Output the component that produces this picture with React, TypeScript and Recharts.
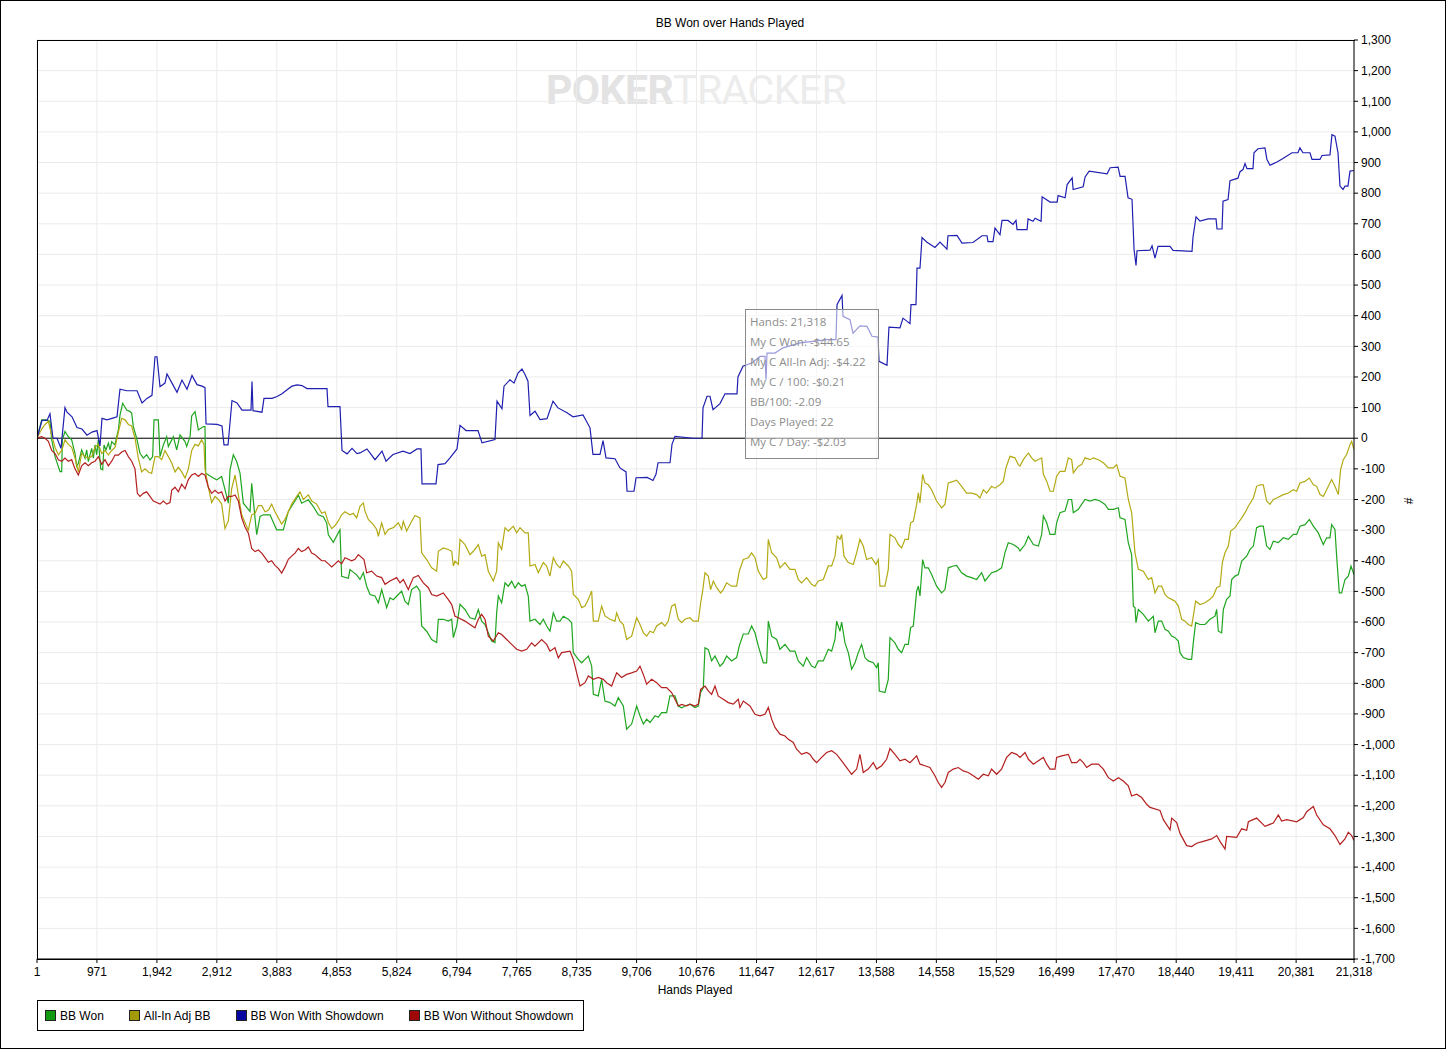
import { LineChart, Line, XAxis, YAxis, CartesianGrid, ReferenceLine } from "recharts"

// hand numbers shown under the x axis
const handTicks = [1, 971, 1942, 2912, 3883, 4853, 5824, 6794, 7765, 8735, 9706, 10676, 11647, 12617, 13588, 14558, 15529, 16499, 17470, 18440, 19411, 20381, 21318]

// BB values shown on the right axis
const bbTicks = [-1700, -1600, -1500, -1400, -1300, -1200, -1100, -1000, -900, -800, -700, -600, -500, -400, -300, -200, -100, 0, 100, 200, 300, 400, 500, 600, 700, 800, 900, 1000, 1100, 1200, 1300]

// [hand, bb]
const bbWon: [number, number][] = [
  [1, 0], [77, 60], [158, 60], [212, 55], [239, -5], [293, -60], [374, -109], [401, -109], [411, -5], [454, 22], [508, 5], [562, -5], [616, -49], [643, -92], [670, -82], [724, -38], [778, -65], [805, -38], [832, -76], [886, -33], [913, -65], [940, -22], [967, -54], [994, -5], [1032, -100], [1064, -103], [1086, -22], [1118, -38], [1156, -16], [1183, -38], [1210, -11], [1264, -22], [1291, 5], [1318, 27], [1345, 76], [1388, 114], [1453, 92], [1507, 87], [1533, 82], [1560, 38], [1614, 0], [1668, -49], [1722, -65], [1776, -54], [1830, -71], [1873, -60], [1895, 60], [1965, 60], [1992, -60], [2046, -22], [2100, 5], [2127, -27], [2208, 5], [2262, -38], [2316, 11], [2397, -11], [2424, -27], [2478, 5], [2505, 73], [2559, 87], [2613, 27], [2693, 38], [2720, 38], [2731, -114], [2855, -130], [2909, -136], [2990, -125], [3044, -168], [3098, -212], [3125, -103], [3179, -54], [3233, -76], [3287, -114], [3341, -212], [3449, -239], [3476, -147], [3530, -261], [3557, -315], [3611, -255], [3665, -250], [3772, -250], [3880, -299], [3988, -299], [4069, -239], [4204, -196], [4231, -185], [4285, -212], [4393, -201], [4474, -223], [4555, -250], [4636, -256], [4690, -277], [4717, -315], [4797, -340], [4905, -299], [4932, -451], [5040, -457], [5067, -429], [5175, -446],
  [5229, -461], [5283, -439], [5337, -483], [5391, -510], [5472, -515], [5526, -537], [5580, -494], [5661, -553], [5715, -521], [5769, -527], [5849, -510], [5903, -499], [5957, -532], [6011, -543], [6065, -494], [6146, -483], [6200, -499], [6227, -613], [6308, -630], [6389, -657], [6470, -667], [6497, -591], [6578, -591], [6659, -597], [6713, -591], [6740, -651], [6794, -613], [6848, -542], [6928, -559], [7009, -586], [7090, -591], [7144, -559], [7198, -597], [7252, -608], [7306, -635], [7360, -662], [7414, -667], [7441, -570], [7468, -515], [7522, -537], [7576, -472], [7630, -483], [7684, -467], [7738, -489], [7792, -472], [7846, -483], [7900, -478], [7953, -515], [7980, -597], [8061, -591], [8142, -608], [8196, -591], [8250, -613], [8304, -630], [8358, -570], [8412, -597], [8466, -597], [8520, -581], [8601, -591], [8655, -602], [8682, -700], [8763, -722], [8817, -733], [8871, -722], [8925, -711], [8979, -744], [9006, -836], [9086, -841], [9140, -787], [9194, -858], [9275, -863], [9356, -874], [9410, -847], [9491, -874], [9545, -950], [9626, -933], [9707, -874], [9761, -906], [9815, -933], [9869, -917], [9923, -928], [10004, -906], [10057, -911], [10111, -896], [10192, -896], [10246, -841], [10327, -841], [10381, -874], [10435, -880], [10489, -874],
  [10570, -868], [10651, -879], [10705, -874], [10743, -830], [10786, -814], [10813, -684], [10867, -690], [10921, -727], [10975, -711], [11056, -744], [11110, -733], [11163, -711], [11244, -727], [11325, -716], [11368, -678], [11433, -639], [11514, -639], [11568, -613], [11622, -635], [11676, -678], [11757, -733], [11811, -733], [11838, -597], [11892, -646], [11973, -657], [12027, -689], [12108, -673], [12189, -695], [12269, -695], [12323, -727], [12404, -744], [12458, -716], [12539, -744], [12593, -749], [12647, -727], [12728, -727], [12809, -689], [12863, -695], [12917, -657], [12944, -597], [12998, -630], [13025, -600], [13079, -668], [13133, -700], [13187, -754], [13241, -733], [13294, -700], [13348, -673], [13402, -716], [13456, -727], [13537, -733], [13591, -749], [13618, -733], [13634, -825], [13726, -830], [13780, -787], [13807, -651], [13888, -668], [13942, -689], [13996, -700], [14050, -673], [14104, -673], [14141, -618], [14185, -613], [14239, -499], [14266, -483], [14293, -515], [14336, -396], [14373, -423], [14427, -423], [14481, -445], [14562, -483], [14643, -505], [14697, -494], [14751, -423], [14832, -417], [14886, -415], [14967, -439], [15048, -450], [15129, -455], [15210, -461], [15291, -439], [15345, -466], [15452, -439], [15533, -434], [15614, -423], [15668, -374], [15722, -341], [15803, -347], [15884, -358],
  [15912, -368], [15993, -347], [16047, -320], [16128, -347], [16209, -352], [16263, -314], [16290, -254], [16344, -276], [16398, -314], [16478, -314], [16505, -276], [16559, -243], [16640, -238], [16694, -200], [16748, -200], [16775, -243], [16856, -232], [16964, -200], [17045, -205], [17126, -200], [17207, -205], [17288, -216], [17342, -232], [17423, -232], [17504, -227], [17531, -260], [17611, -265], [17665, -342], [17719, -380], [17746, -548], [17773, -553], [17789, -602], [17827, -559], [17908, -575], [17989, -597], [18070, -581], [18097, -635], [18151, -597], [18205, -597], [18259, -624], [18313, -630], [18367, -646], [18421, -651], [18475, -662], [18502, -700], [18556, -716], [18636, -722], [18690, -722], [18717, -668], [18755, -602], [18825, -608], [18906, -608], [18987, -591], [19068, -581], [19095, -559], [19122, -630], [19176, -635], [19203, -559], [19257, -526], [19311, -515], [19338, -461], [19392, -450], [19446, -445], [19500, -401], [19581, -385], [19635, -363], [19689, -352], [19742, -292], [19796, -287], [19850, -287], [19904, -352], [19958, -363], [20012, -336], [20093, -341], [20174, -325], [20255, -330], [20336, -314], [20390, -314], [20444, -287], [20525, -282], [20595, -265], [20660, -287], [20740, -309], [20821, -347], [20875, -325], [20929, -325], [20956, -282], [21010, -298], [21037, -385], [21080, -505], [21118, -505], [21172, -461], [21226, -450], [21269, -417], [21318, -445],
]

const allInAdj: [number, number][] = [
  [1, 0], [77, 30], [131, 45], [185, 55], [239, 10], [293, -30], [347, -54], [401, -40], [454, -5], [508, -20], [562, -30], [616, -65], [670, -110], [724, -50], [778, -60], [832, -65], [886, -60], [940, -30], [994, -20], [1048, -50], [1102, -40], [1156, -55], [1210, -40], [1264, -30], [1318, 20], [1372, 65], [1426, 60], [1480, 45], [1533, 40], [1587, 0], [1641, -65], [1695, -110], [1749, -100], [1803, -110], [1857, -115], [1911, -60], [1965, -60], [2019, -70], [2073, -40], [2127, -60], [2181, -80], [2235, -110], [2289, -95], [2343, -110], [2397, -130], [2451, -100], [2505, -40], [2559, -20], [2613, -25], [2666, -5], [2704, -20], [2720, -100], [2774, -160], [2828, -210], [2882, -190], [2936, -200], [2990, -215], [3044, -295], [3098, -270], [3152, -165], [3206, -120], [3260, -185], [3314, -250], [3368, -275], [3422, -300], [3476, -250], [3530, -245], [3584, -220], [3638, -220], [3692, -240], [3745, -235], [3799, -215], [3853, -240], [3907, -260], [3961, -280], [4015, -265], [4069, -240], [4123, -215], [4204, -190], [4258, -175], [4312, -200], [4393, -185], [4447, -205], [4528, -215], [4609, -245], [4663, -240], [4717, -275], [4771, -295], [4825, -285], [4878, -270], [4932, -250], [4986, -240], [5067, -250], [5121, -245], [5175, -260],
  [5229, -222], [5283, -211], [5310, -238], [5364, -265], [5445, -282], [5499, -298], [5526, -320], [5580, -276], [5634, -314], [5688, -298], [5769, -292], [5849, -276], [5903, -298], [5930, -271], [5984, -303], [6065, -271], [6119, -252], [6200, -260], [6227, -374], [6308, -396], [6389, -423], [6470, -434], [6497, -369], [6578, -358], [6659, -363], [6713, -369], [6740, -417], [6767, -401], [6821, -412], [6848, -330], [6928, -347], [7009, -380], [7063, -369], [7144, -347], [7198, -385], [7252, -380], [7306, -434], [7387, -466], [7441, -434], [7468, -341], [7522, -363], [7576, -292], [7630, -303], [7711, -287], [7765, -309], [7819, -292], [7900, -309], [7953, -309], [7980, -417], [8061, -412], [8115, -439], [8196, -406], [8250, -417], [8304, -450], [8358, -390], [8412, -412], [8466, -423], [8520, -401], [8601, -417], [8655, -434], [8682, -510], [8763, -526], [8817, -553], [8871, -548], [8925, -526], [8979, -499], [9006, -597], [9086, -597], [9140, -548], [9194, -580], [9275, -591], [9356, -597], [9383, -570], [9437, -597], [9491, -608], [9545, -657], [9626, -646], [9707, -586], [9761, -608], [9815, -635], [9869, -646], [9923, -630], [9977, -635], [10031, -613], [10111, -602], [10165, -613], [10219, -597], [10273, -548], [10327, -542], [10381, -591], [10435, -602], [10489, -591], [10570, -586],
  [10624, -597], [10705, -597], [10743, -537], [10775, -499], [10813, -439], [10867, -450], [10904, -494], [10948, -466], [11002, -488], [11066, -505], [11110, -494], [11163, -472], [11244, -483], [11325, -483], [11368, -434], [11433, -396], [11514, -390], [11568, -374], [11622, -390], [11676, -434], [11757, -461], [11811, -455], [11838, -330], [11892, -374], [11973, -390], [12027, -423], [12108, -406], [12189, -428], [12269, -428], [12323, -461], [12377, -472], [12458, -455], [12539, -477], [12593, -483], [12647, -466], [12728, -461], [12809, -417], [12863, -417], [12917, -385], [12955, -320], [12998, -330], [13025, -314], [13063, -385], [13133, -406], [13214, -412], [13268, -374], [13321, -330], [13375, -352], [13429, -396], [13510, -390], [13580, -412], [13618, -396], [13645, -483], [13726, -483], [13780, -428], [13807, -314], [13888, -325], [13942, -347], [13996, -358], [14050, -330], [14104, -330], [14141, -276], [14185, -271], [14239, -216], [14266, -178], [14293, -211], [14336, -118], [14373, -146], [14427, -152], [14481, -168], [14562, -205], [14643, -227], [14697, -216], [14751, -146], [14832, -141], [14886, -137], [14967, -157], [15048, -179], [15129, -179], [15210, -184], [15264, -195], [15318, -168], [15372, -179], [15452, -157], [15506, -163], [15587, -152], [15641, -141], [15684, -97], [15749, -59], [15830, -64], [15884, -86],
  [15912, -91], [15966, -70], [16047, -48], [16101, -64], [16155, -75], [16263, -64], [16290, -118], [16344, -140], [16398, -173], [16452, -173], [16505, -124], [16559, -108], [16640, -108], [16694, -64], [16748, -70], [16775, -113], [16856, -91], [16910, -86], [16964, -64], [17045, -70], [17099, -64], [17180, -70], [17261, -80], [17342, -97], [17423, -97], [17477, -86], [17531, -124], [17611, -130], [17665, -200], [17719, -243], [17773, -374], [17827, -428], [17908, -434], [17989, -461], [18043, -455], [18097, -505], [18151, -483], [18205, -483], [18259, -510], [18313, -521], [18367, -526], [18421, -532], [18475, -548], [18529, -591], [18583, -597], [18636, -608], [18690, -613], [18717, -581], [18755, -532], [18825, -543], [18906, -537], [18987, -526], [19041, -515], [19095, -488], [19149, -483], [19187, -406], [19230, -374], [19284, -352], [19322, -303], [19392, -292], [19446, -276], [19500, -260], [19554, -243], [19608, -222], [19689, -195], [19742, -157], [19796, -152], [19850, -152], [19904, -205], [19958, -216], [20012, -200], [20066, -195], [20174, -184], [20255, -179], [20336, -168], [20390, -173], [20444, -146], [20525, -141], [20595, -130], [20660, -152], [20714, -157], [20768, -184], [20821, -190], [20875, -168], [20956, -135], [21010, -157], [21064, -184], [21102, -102], [21145, -70], [21199, -53], [21253, -21], [21280, -10], [21318, -37],
]

const withShowdown: [number, number][] = [
  [1, 0], [82, 58], [163, 58], [211, 80], [260, 0], [325, 0], [389, -33], [454, 100], [487, 85], [568, 70], [648, 35], [729, 30], [810, 10], [891, 20], [972, 25], [1021, -25], [1053, 65], [1134, 60], [1215, 65], [1296, 70], [1344, 160], [1458, 155], [1620, 155], [1701, 115], [1781, 130], [1862, 140], [1911, 266], [1943, 266], [1992, 168], [2073, 180], [2105, 210], [2186, 180], [2267, 150], [2348, 190], [2429, 160], [2510, 205], [2591, 175], [2672, 170], [2720, 165], [2737, 47], [2915, 45], [2995, 40], [3028, -22], [3093, -22], [3157, 123], [3238, 115], [3319, 92], [3465, 92], [3481, 185], [3497, 90], [3643, 85], [3675, 130], [3805, 130], [3886, 136], [3967, 145], [4048, 158], [4128, 170], [4209, 174], [4290, 172], [4371, 162], [4695, 162], [4711, 103], [4905, 103], [4938, -40], [5019, -51], [5100, -33], [5180, -50],
  [5229, -48], [5342, -35], [5472, -70], [5585, -42], [5650, -75], [5763, -53], [5925, -42], [6038, -50], [6152, -35], [6216, -35], [6233, -149], [6459, -149], [6492, -86], [6605, -83], [6686, -64], [6799, -35], [6848, 42], [6945, 25], [7139, 25], [7204, -15], [7414, -4], [7447, 121], [7527, 96], [7560, 170], [7657, 191], [7722, 180], [7787, 213], [7851, 226], [7900, 208], [7948, 186], [7981, 74], [8062, 88], [8143, 61], [8256, 64], [8353, 121], [8434, 99], [8580, 83], [8677, 70], [8839, 76], [8952, 34], [9000, -53], [9114, -53], [9163, -8], [9211, -64], [9357, -67], [9437, -97], [9535, -110], [9551, -173], [9664, -173], [9697, -129], [9875, -128], [9972, -138], [10020, -118], [10053, -80], [10247, -80], [10279, -20], [10328, 6], [10619, 0],
  [10765, 0], [10781, 99], [10846, 137], [10894, 137], [10943, 93], [11056, 113], [11137, 145], [11331, 145], [11347, 200], [11428, 235], [11574, 246], [11703, 267], [11784, 267], [11801, 191], [11817, 278], [11946, 278], [12076, 295], [12351, 311], [12561, 316], [12788, 322], [12933, 322], [12950, 436], [13031, 466], [13047, 398], [13160, 387], [13209, 343], [13322, 367], [13435, 365], [13516, 333], [13613, 330], [13630, 251], [13759, 238], [13791, 363], [13969, 360], [14018, 392], [14131, 374], [14148, 436], [14228, 436], [14245, 555], [14293, 555], [14326, 655], [14406, 640], [14536, 623], [14617, 640], [14730, 617], [14746, 661], [14892, 662], [14973, 637], [15151, 639], [15297, 661], [15378, 661], [15394, 642], [15475, 642], [15507, 686], [15588, 664], [15621, 711], [15718, 711], [15799, 698],
  [15847, 711], [15864, 681], [16026, 681], [16042, 716], [16123, 708], [16156, 718], [16253, 708], [16270, 788], [16399, 771], [16513, 771], [16529, 792], [16642, 785], [16675, 828], [16756, 850], [16772, 812], [16934, 821], [16966, 853], [17031, 872], [17322, 863], [17371, 883], [17500, 885], [17532, 855], [17612, 855], [17661, 785], [17725, 780], [17758, 616], [17790, 564], [17806, 612], [18017, 614], [18049, 628], [18097, 588], [18146, 626], [18340, 626], [18389, 613], [18696, 610], [18712, 656], [18761, 723], [18825, 709], [18955, 716], [19085, 716], [19101, 683], [19182, 683], [19198, 774], [19279, 779], [19311, 841], [19440, 849], [19473, 870], [19521, 877], [19554, 897], [19586, 880], [19683, 880], [19699, 932], [19764, 945], [19877, 948], [19909, 910], [19958, 891], [20071, 902], [20168, 913], [20314, 932], [20411, 932], [20443, 948], [20492, 932], [20605, 932], [20638, 910], [20767, 910], [20800, 923], [20929, 925], [20961, 991], [21010, 986], [21059, 932], [21091, 823], [21140, 812], [21172, 823], [21220, 823], [21253, 872], [21318, 874],
]

const withoutShowdown: [number, number][] = [
  [1, 0], [77, 5], [131, 0], [185, -10], [239, -40], [293, -50], [347, -70], [401, -75], [454, -65], [508, -75], [562, -70], [616, -100], [670, -120], [724, -90], [778, -80], [832, -90], [886, -80], [940, -75], [994, -60], [1048, -85], [1102, -70], [1156, -90], [1210, -75], [1264, -55], [1318, -55], [1372, -45], [1426, -40], [1480, -60], [1533, -75], [1587, -100], [1625, -180], [1668, -190], [1722, -180], [1776, -175], [1830, -190], [1884, -205], [1938, -210], [1992, -215], [2046, -205], [2100, -215], [2154, -210], [2181, -170], [2235, -160], [2289, -175], [2343, -150], [2397, -165], [2451, -135], [2505, -120], [2559, -115], [2613, -125], [2666, -115], [2720, -120], [2774, -160], [2828, -180], [2882, -170], [2936, -180], [2990, -175], [3044, -205], [3098, -190], [3152, -190], [3206, -185], [3260, -205], [3314, -260], [3368, -290], [3422, -310], [3476, -360], [3530, -370], [3584, -365], [3638, -375], [3692, -390], [3745, -405], [3799, -400], [3853, -415], [3907, -425], [3961, -440], [4015, -420], [4069, -395], [4123, -385], [4177, -375], [4231, -360], [4285, -370], [4339, -365], [4393, -355], [4447, -375], [4501, -380], [4555, -390], [4609, -400], [4663, -400], [4717, -410], [4771, -420], [4825, -410], [4878, -400], [4932, -410], [4986, -390], [5040, -395], [5094, -400], [5148, -395], [5202, -380],
  [5294, -396], [5337, -439], [5418, -434], [5499, -450], [5580, -455], [5634, -477], [5715, -466], [5822, -455], [5876, -472], [5930, -461], [6011, -494], [6092, -455], [6173, -448], [6254, -472], [6335, -488], [6389, -510], [6470, -515], [6578, -505], [6659, -527], [6713, -543], [6767, -581], [6821, -586], [6928, -597], [7009, -608], [7090, -619], [7144, -591], [7198, -575], [7252, -591], [7306, -646], [7387, -662], [7468, -635], [7522, -641], [7603, -657], [7684, -673], [7765, -689], [7846, -695], [7927, -689], [8007, -668], [8061, -679], [8169, -657], [8250, -673], [8304, -695], [8385, -684], [8439, -717], [8493, -700], [8628, -695], [8682, -722], [8736, -766], [8790, -809], [8871, -798], [8925, -776], [9006, -787], [9086, -781], [9167, -787], [9221, -798], [9302, -809], [9383, -766], [9464, -781], [9545, -771], [9626, -766], [9707, -760], [9761, -744], [9815, -771], [9869, -803], [9950, -787], [10031, -798], [10111, -814], [10192, -814], [10273, -830], [10327, -852], [10381, -874], [10435, -869], [10516, -874],
  [10570, -868], [10651, -874], [10705, -868], [10743, -820], [10813, -809], [10867, -825], [10921, -836], [10975, -809], [11029, -842], [11110, -852], [11190, -863], [11271, -868], [11352, -852], [11379, -879], [11433, -858], [11541, -874], [11622, -901], [11703, -906], [11784, -901], [11838, -879], [11892, -917], [11946, -944], [12027, -966], [12108, -972], [12162, -983], [12242, -993], [12296, -1015], [12377, -1032], [12458, -1026], [12512, -1032], [12566, -1048], [12620, -1059], [12701, -1042], [12782, -1026], [12863, -1020], [12944, -1032], [13025, -1053], [13106, -1075], [13187, -1097], [13268, -1080], [13321, -1032], [13375, -1091], [13456, -1080], [13537, -1059], [13591, -1080], [13672, -1069], [13753, -1048], [13807, -1013], [13888, -1032], [13969, -1053], [14050, -1048], [14131, -1059], [14239, -1037], [14293, -1064], [14373, -1069], [14454, -1075], [14535, -1102], [14589, -1124], [14643, -1140], [14697, -1124], [14751, -1091], [14832, -1080], [14913, -1075], [14994, -1086], [15075, -1091], [15156, -1102], [15237, -1113], [15318, -1097], [15399, -1102], [15452, -1080], [15533, -1097], [15614, -1080], [15695, -1042], [15776, -1026], [15857, -1032],
  [15912, -1042], [15993, -1026], [16047, -1048], [16128, -1064], [16209, -1053], [16290, -1042], [16344, -1064], [16398, -1080], [16478, -1080], [16505, -1042], [16586, -1037], [16694, -1032], [16748, -1059], [16829, -1059], [16883, -1048], [16937, -1059], [16991, -1075], [17072, -1064], [17180, -1064], [17261, -1080], [17342, -1108], [17423, -1119], [17504, -1108], [17584, -1119], [17665, -1135], [17719, -1168], [17800, -1162], [17881, -1173], [17962, -1195], [18016, -1205], [18178, -1215], [18232, -1245], [18340, -1278], [18367, -1240], [18448, -1255], [18502, -1290], [18609, -1330], [18690, -1333], [18771, -1322], [18879, -1316], [19014, -1308], [19095, -1297], [19149, -1316], [19230, -1341], [19257, -1300], [19419, -1303], [19500, -1275], [19581, -1280], [19608, -1252], [19742, -1240], [19877, -1267], [20012, -1256], [20093, -1230], [20147, -1250], [20228, -1245], [20390, -1252], [20498, -1238], [20552, -1219], [20660, -1202], [20714, -1230], [20821, -1262], [20929, -1275], [21010, -1297], [21091, -1326], [21172, -1308], [21226, -1286], [21280, -1297], [21318, -1313],
]

const tooltipLines = [
  "Hands: 21,318",
  "My C Won: -$44.65",
  "My C All-In Adj: -$4.22",
  "My C / 100: -$0.21",
  "BB/100: -2.09",
  "Days Played: 22",
  "My C / Day: -$2.03",
]

const series = [
  { name: "BB Won", color: "#1fa51f", swatch: "#0f9a0f", points: bbWon },
  { name: "All-In Adj BB", color: "#b3aa14", swatch: "#a29a08", points: allInAdj },
  { name: "BB Won With Showdown", color: "#1f1fb0", swatch: "#0808a0", points: withShowdown },
  { name: "BB Won Without Showdown", color: "#b41f1f", swatch: "#a00808", points: withoutShowdown },
]

const font = "'Liberation Sans', Arial, sans-serif"
const fmt = (v: number) => v.toLocaleString("en-US")

export default function App() {
  return (
    <div style={{ position: "absolute", left: 0, top: 0, width: 1447, height: 1050, background: "#fff", fontFamily: font }}>
      <div style={{ position: "absolute", left: 0, top: 0, width: 1446, height: 1049, border: "1px solid #000", boxSizing: "border-box" }} />

      <div style={{ position: "absolute", left: 0, width: 1460, top: 16, textAlign: "center", fontSize: 12, color: "#000" }}>
        BB Won over Hands Played
      </div>

      <div style={{ position: "absolute", left: 546, top: 66, fontFamily: "Roboto, sans-serif", fontSize: 41, lineHeight: "48px", letterSpacing: -0.6, whiteSpace: "nowrap" }}>
        <span style={{ color: "#e3e3e3", fontWeight: 700 }}>POKER</span>
        <span style={{ color: "#ececec", fontWeight: 400 }}>TRACKER</span>
      </div>

      <LineChart
        width={1447}
        height={1050}
        margin={{ top: 40, left: 37, right: 37, bottom: 61 }}
        style={{ position: "absolute", left: 0, top: 0 }}
      >
        <CartesianGrid stroke="#ebebeb" />
        <XAxis
          type="number"
          dataKey="hand"
          domain={[1, 21318]}
          ticks={handTicks}
          interval={0}
          allowDataOverflow
          tickFormatter={fmt}
          height={30}
          tickSize={4}
          tickMargin={4}
          stroke="#000"
          tick={{ fill: "#000", fontSize: 12, fontFamily: font }}
        />
        <YAxis
          type="number"
          orientation="right"
          domain={[-1700, 1300]}
          ticks={bbTicks}
          interval={0}
          allowDataOverflow
          tickFormatter={fmt}
          width={56}
          tickSize={4}
          tickMargin={3}
          stroke="#000"
          tick={{ fill: "#000", fontSize: 12, fontFamily: font }}
        />
        <ReferenceLine y={0} stroke="#000" strokeWidth={1} />
        {series.map((s) => (
          <Line
            key={s.name}
            data={s.points.map(([hand, bb]) => ({ hand, bb }))}
            dataKey="bb"
            name={s.name}
            type="linear"
            stroke={s.color}
            strokeWidth={1.2}
            dot={false}
            activeDot={false}
            isAnimationActive={false}
          />
        ))}
      </LineChart>

      <div style={{ position: "absolute", left: 37, top: 40, width: 1318, height: 920, border: "1px solid #000", borderRight: "none", boxSizing: "border-box", pointerEvents: "none" }} />

      <div style={{ position: "absolute", left: 745, top: 309, width: 134, height: 150, border: "1px solid #8a8a8a", background: "rgba(255,255,255,0.55)", boxSizing: "border-box", padding: "2px 0 0 4px", fontFamily: "'Open Sans', sans-serif", fontSize: 11.5, lineHeight: "20px", color: "#8c8c8c", whiteSpace: "nowrap" }}>
        {tooltipLines.map((t) => (
          <div key={t}>{t}</div>
        ))}
      </div>

      <div style={{ position: "absolute", left: 595, width: 200, top: 983, textAlign: "center", fontSize: 12 }}>Hands Played</div>

      <div style={{ position: "absolute", left: 1406, top: 494, fontSize: 12, transform: "rotate(-90deg)" }}>#</div>

      <div style={{ position: "absolute", left: 37, top: 1000, width: 547, height: 31, border: "1px solid #000", boxSizing: "border-box", display: "flex", alignItems: "center", fontSize: 12 }}>
        {series.map((s, i) => (
          <div key={s.name} style={{ display: "flex", alignItems: "center", marginLeft: i === 0 ? 7 : 25 }}>
            <span style={{ display: "inline-block", width: 9, height: 9, background: s.swatch, border: "1px solid #222", marginRight: 4 }} />
            {s.name}
          </div>
        ))}
      </div>
    </div>
  )
}
